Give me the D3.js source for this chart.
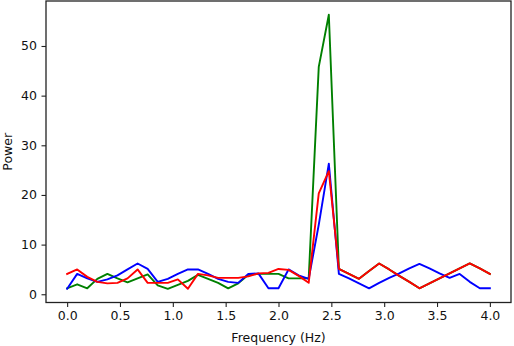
<!DOCTYPE html>
<html>
<head>
<meta charset="utf-8">
<script src="https://cdn.jsdelivr.net/npm/d3@7"></script>
<style>
  html, body { margin: 0; padding: 0; background: #fff; }
  svg { display: block; }
  text { font-family: "DejaVu Sans", sans-serif; }
</style>
</head>
<body>
<svg id="chart" width="514" height="346"></svg>
<script>
// Frequency bins (Hz): 43 evenly spaced bins from 0 to 4
const frequencies = d3.range(43).map(k => k * 4 / 42);

const greenPower = [1.2, 2.0, 1.2, 3.1, 4.1, 3.2, 2.4, 3.2, 4.0, 1.8,
                    1.1, 1.9, 2.7, 3.9, 3.1, 2.3, 1.2, 2.2, 3.9, 4.1,
                    4.1, 4.1, 3.2, 3.2, 3.2, 45.8, 56.3, 5.1, 4.1, 3.1,
                    4.7, 6.2, 5.0, 3.7, 2.5, 1.2, 2.2, 3.2, 4.2, 5.2,
                    6.2, 5.2, 4.1];
const bluePower  = [1.1, 4.1, 3.2, 2.5, 3.0, 3.8, 5.0, 6.2, 5.1, 2.5,
                    3.1, 4.1, 5.0, 5.0, 4.1, 3.1, 2.5, 2.3, 4.1, 4.2,
                    1.2, 1.2, 5.0, 3.8, 3.1, 14.0, 26.3, 4.1, 3.2, 2.2,
                    1.2, 2.3, 3.3, 4.2, 5.2, 6.1, 5.2, 4.2, 3.3, 4.1,
                    2.5, 1.2, 1.2];
const redPower   = [4.1, 5.0, 3.5, 2.5, 2.2, 2.3, 3.2, 5.0, 2.3, 2.3,
                    2.3, 3.0, 1.1, 4.1, 3.8, 3.3, 3.3, 3.3, 3.6, 4.2,
                    4.3, 5.1, 4.9, 3.7, 2.3, 20.3, 24.8, 5.1, 4.1, 3.1,
                    4.7, 6.2, 5.0, 3.7, 2.5, 1.2, 2.2, 3.2, 4.2, 5.2,
                    6.2, 5.2, 4.1];

const seriesNames  = ["green", "blue", "red"];
const seriesColors = ["#008000", "#0000ff", "#ff0000"];
const seriesValues = [greenPower, bluePower, redPower];

const xTicks = [0, 0.5, 1.0, 1.5, 2.0, 2.5, 3.0, 3.5, 4.0];
const yTicks = [0, 10, 20, 30, 40, 50];
const xLabel = "Frequency (Hz)";
const yLabel = "Power";

// Layout
const mLeft = 46, mRight = 511, mTop = 1, mBottom = 302.5;
const svg = d3.select("#chart");

const xExt = d3.extent(frequencies);
const xPad = 0.05 * (xExt[1] - xExt[0]);
const allY = seriesValues.flat();
const yExt = d3.extent(allY);
const yPad = 0.05 * (yExt[1] - yExt[0]);

const x = d3.scaleLinear().domain([xExt[0] - xPad, xExt[1] + xPad]).range([mLeft, mRight]);
const y = d3.scaleLinear().domain([yExt[0] - yPad, yExt[1] + yPad]).range([mBottom, mTop]);

const fontSize = 12.5;
const tickLen = 4.5;

// Lines
svg.append("clipPath").attr("id", "clip")
  .append("rect").attr("x", mLeft).attr("y", mTop).attr("width", mRight - mLeft).attr("height", mBottom - mTop);

const line = d3.line().x((d, i) => x(frequencies[i])).y(d => y(d));
const lg = svg.append("g").attr("clip-path", "url(#clip)");
seriesValues.forEach((vals, s) => {
  lg.append("path")
    .datum(vals)
    .attr("fill", "none")
    .attr("stroke", seriesColors[s])
    .attr("stroke-width", 1.9)
    .attr("stroke-linejoin", "round")
    .attr("stroke-linecap", "square")
    .attr("d", line);
});

// Axes
const xAxis = d3.axisBottom(x).tickValues(xTicks).tickFormat(d3.format(".1f"))
  .tickSize(tickLen).tickPadding(4).tickSizeOuter(0);
const gx = svg.append("g").attr("transform", `translate(0,${mBottom})`).call(xAxis);
gx.select(".domain").remove();
gx.selectAll(".tick line").attr("stroke", "#222").attr("stroke-width", 1.1);
gx.selectAll(".tick text").attr("fill", "#111").style("font-size", fontSize + "px")
  .style("font-family", "'DejaVu Sans', sans-serif");

const yAxis = d3.axisLeft(y).tickValues(yTicks).tickFormat(d3.format("d"))
  .tickSize(tickLen).tickPadding(4.5).tickSizeOuter(0);
const gy = svg.append("g").attr("transform", `translate(${mLeft},0)`).call(yAxis);
gy.select(".domain").remove();
gy.selectAll(".tick line").attr("stroke", "#222").attr("stroke-width", 1.1);
gy.selectAll(".tick text").attr("fill", "#111").style("font-size", fontSize + "px")
  .style("font-family", "'DejaVu Sans', sans-serif");

// Frame
svg.append("rect")
  .attr("x", mLeft).attr("y", mTop)
  .attr("width", mRight - mLeft).attr("height", mBottom - mTop)
  .attr("fill", "none").attr("stroke", "#222").attr("stroke-width", 1.3);

// Labels
svg.append("text")
  .attr("x", (mLeft + mRight) / 2).attr("y", 342)
  .attr("text-anchor", "middle")
  .attr("fill", "#111")
  .style("font-size", fontSize + "px")
  .text(xLabel);

svg.append("text")
  .attr("transform", `translate(12,${(mTop + mBottom) / 2}) rotate(-90)`)
  .attr("text-anchor", "middle")
  .attr("fill", "#111")
  .style("font-size", fontSize + "px")
  .text(yLabel);
</script>
</body>
</html>
